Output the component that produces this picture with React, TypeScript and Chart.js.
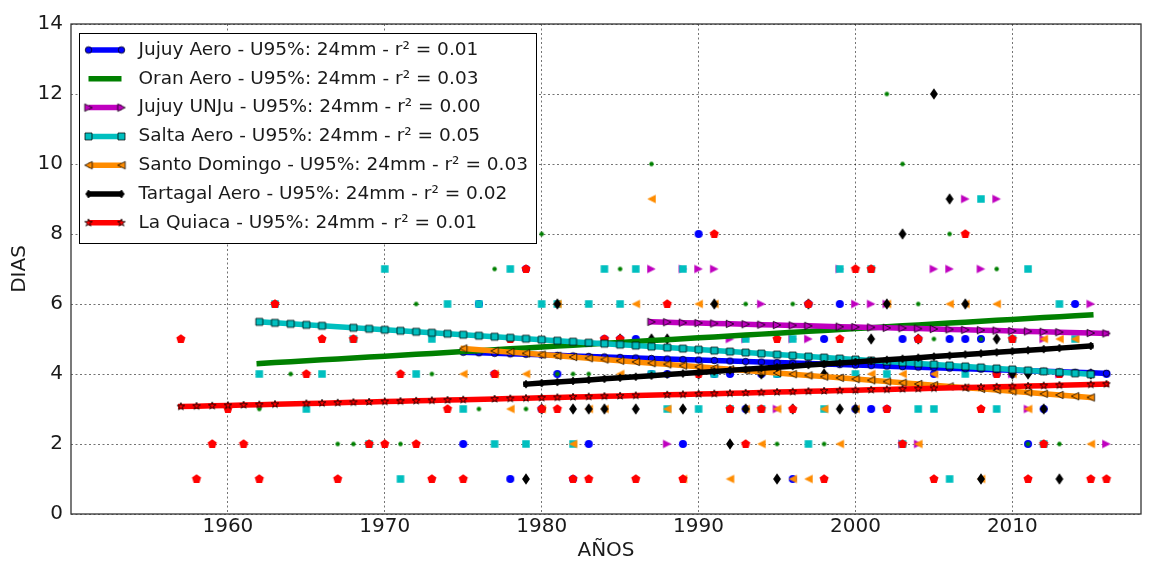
import { useEffect, useRef } from 'react';
import { Chart, registerables } from 'chart.js';

Chart.register(...registerables);

// ---------- data ----------
const stationNames = ['Jujuy Aero', 'Oran Aero', 'Jujuy UNJu', 'Salta Aero', 'Santo Domingo', 'Tartagal Aero', 'La Quiaca'];
const r2Values = ['0.01', '0.03', '0.00', '0.05', '0.03', '0.02', '0.01'];
const xTicks = [1960, 1970, 1980, 1990, 2000, 2010];
const yTicks = [0, 2, 4, 6, 8, 10, 12, 14];

const jujuyAeroYears = [1975, 1976, 1977, 1978, 1979, 1980, 1981, 1982, 1983, 1984, 1985, 1986, 1987, 1988, 1989, 1990, 1991, 1992, 1993, 1994, 1995, 1996, 1997, 1998, 1999, 2000, 2001, 2002, 2003, 2004, 2005, 2006, 2007, 2008, 2009, 2010, 2011, 2012, 2013, 2014, 2015, 2016];
const jujuyAeroDays = [2, 6, 4, 1, 7, 3, 4, 1, 2, 5, 5, 5, 4, 4, 2, 8, 4, 4, 3, 4, 4, 1, 6, 5, 6, 3, 3, 3, 5, 5, 4, 5, 5, 5, 4, 4, 2, 3, 4, 6, 4, 4];
const jujuyAeroTrend = [4.62, 4.02];

const oranAeroYears = [1962, 1963, 1964, 1965, 1966, 1967, 1968, 1969, 1970, 1971, 1972, 1973, 1974, 1975, 1976, 1977, 1978, 1979, 1980, 1981, 1982, 1983, 1984, 1985, 1986, 1987, 1988, 1989, 1990, 1991, 1992, 1993, 1994, 1995, 1996, 1997, 1998, 1999, 2000, 2001, 2002, 2003, 2004, 2005, 2006, 2007, 2008, 2009, 2010, 2011, 2012, 2013, 2014, 2015];
const oranAeroDays = [3, 6, 4, 4, 5, 2, 2, 2, 2, 2, 6, 4, 3, 1, 3, 7, 7, 3, 8, 4, 4, 4, 5, 7, 1, 10, 6, 7, 4, 6, 3, 6, 3, 2, 6, 6, 2, 7, 7, 7, 12, 10, 6, 5, 8, 8, 5, 7, 5, 2, 2, 2, 5, 1];
const oranAeroTrend = [4.3, 5.69];

const jujuyUnjuYears = [1987, 1988, 1989, 1990, 1991, 1992, 1993, 1994, 1995, 1996, 1997, 1999, 2000, 2001, 2002, 2003, 2004, 2005, 2006, 2007, 2008, 2009, 2010, 2011, 2012, 2013, 2015, 2016];
const jujuyUnjuDays = [7, 2, 7, 7, 7, 5, 5, 6, 3, 5, 5, 7, 6, 6, 6, 2, 2, 7, 7, 9, 7, 9, 4, 3, 5, 4, 6, 2];
const jujuyUnjuTrend = [5.49, 5.16];

const saltaAeroYears = [1962, 1963, 1964, 1965, 1966, 1968, 1969, 1970, 1971, 1972, 1973, 1974, 1975, 1976, 1977, 1978, 1979, 1980, 1981, 1982, 1983, 1984, 1985, 1986, 1987, 1988, 1989, 1990, 1991, 1992, 1993, 1994, 1995, 1996, 1997, 1998, 1999, 2000, 2001, 2002, 2003, 2004, 2005, 2006, 2007, 2008, 2009, 2010, 2011, 2012, 2013, 2014, 2015];
const saltaAeroDays = [4, 6, 8, 3, 4, 5, 2, 7, 1, 4, 5, 6, 3, 6, 2, 7, 2, 6, 6, 2, 6, 7, 6, 7, 4, 3, 7, 3, 4, 3, 5, 3, 4, 5, 2, 3, 7, 4, 7, 4, 2, 3, 3, 1, 4, 9, 3, 5, 7, 2, 6, 5, 4];
const saltaAeroTrend = [5.49, 3.99];

const santoDomingoYears = [1975, 1977, 1978, 1979, 1980, 1981, 1982, 1983, 1984, 1985, 1986, 1987, 1988, 1989, 1990, 1991, 1992, 1993, 1994, 1995, 1996, 1997, 1998, 1999, 2000, 2001, 2002, 2003, 2004, 2005, 2006, 2007, 2008, 2009, 2010, 2011, 2012, 2013, 2014, 2015];
const santoDomingoDays = [4, 4, 3, 4, 3, 6, 2, 3, 3, 4, 6, 9, 3, 1, 6, 6, 1, 3, 2, 3, 1, 1, 3, 2, 3, 4, 6, 4, 2, 4, 6, 6, 1, 6, 4, 3, 5, 5, 5, 2];
const santoDomingoTrend = [4.73, 3.33];

const tartagalAeroYears = [1979, 1980, 1981, 1982, 1983, 1984, 1985, 1986, 1987, 1988, 1989, 1990, 1991, 1992, 1993, 1994, 1995, 1996, 1997, 1998, 1999, 2000, 2001, 2002, 2003, 2004, 2005, 2006, 2007, 2008, 2009, 2010, 2011, 2012, 2013, 2015];
const tartagalAeroDays = [1, 3, 6, 3, 3, 3, 5, 3, 5, 5, 3, 4, 6, 2, 3, 4, 1, 3, 6, 4, 3, 3, 5, 6, 8, 5, 12, 9, 6, 1, 5, 4, 4, 3, 1, 4];
const tartagalAeroTrend = [3.71, 4.8];

const laQuiacaYears = [1957, 1958, 1959, 1960, 1961, 1962, 1963, 1965, 1966, 1967, 1968, 1969, 1970, 1971, 1972, 1973, 1974, 1975, 1977, 1978, 1979, 1980, 1981, 1982, 1983, 1984, 1985, 1986, 1988, 1989, 1990, 1991, 1992, 1993, 1994, 1995, 1996, 1997, 1998, 1999, 2000, 2001, 2002, 2003, 2004, 2005, 2007, 2008, 2009, 2010, 2011, 2012, 2013, 2015, 2016];
const laQuiacaDays = [5, 1, 2, 3, 2, 1, 6, 4, 5, 1, 5, 2, 2, 4, 2, 1, 3, 1, 4, 5, 7, 3, 3, 1, 1, 5, 5, 1, 6, 1, 4, 8, 3, 2, 3, 5, 3, 6, 1, 5, 7, 7, 3, 2, 5, 1, 8, 3, 4, 5, 1, 2, 4, 1, 1];
const laQuiacaTrend = [3.07, 3.71];

const stationYears = [jujuyAeroYears, oranAeroYears, jujuyUnjuYears, saltaAeroYears, santoDomingoYears, tartagalAeroYears, laQuiacaYears];
const stationDays = [jujuyAeroDays, oranAeroDays, jujuyUnjuDays, saltaAeroDays, santoDomingoDays, tartagalAeroDays, laQuiacaDays];
const stationTrends = [jujuyAeroTrend, oranAeroTrend, jujuyUnjuTrend, saltaAeroTrend, santoDomingoTrend, tartagalAeroTrend, laQuiacaTrend];

// ---------- styles ----------
const colors = ['#0000ff', '#008000', '#bf00bf', '#00bfbf', '#ff8c00', '#000000', '#ff0000'];
const scatterShapes = ['circle', 'circle', 'triRight', 'square', 'triLeft', 'thinDiamond', 'pentagon'];
const scatterSizes = [8, 4.5, 8.5, 7.5, 8.5, 11.5, 9.6];
const trendShapes = ['circle', 'none', 'triRight', 'square', 'triLeft', 'thinDiamond', 'star'];
const trendSizes = [6.5, 0, 7.5, 7, 7.5, 8, 8];
const FONT = '"DejaVu Sans", "Liberation Sans", sans-serif';

function makeMarker(shape: string, size: number, fill: string, stroke: string | null, lw: number): HTMLCanvasElement {
  const pad = 2;
  const dim = Math.ceil(size + pad * 2);
  const c = document.createElement('canvas');
  c.width = dim;
  c.height = dim;
  const g = c.getContext('2d')!;
  g.translate(dim / 2, dim / 2);
  const r = size / 2;
  g.beginPath();
  if (shape === 'circle') {
    g.arc(0, 0, r, 0, Math.PI * 2);
  } else if (shape === 'square') {
    g.rect(-r, -r, 2 * r, 2 * r);
  } else if (shape === 'triRight') {
    g.moveTo(r, 0); g.lineTo(-r, -r); g.lineTo(-r, r); g.closePath();
  } else if (shape === 'triLeft') {
    g.moveTo(-r, 0); g.lineTo(r, -r); g.lineTo(r, r); g.closePath();
  } else if (shape === 'thinDiamond') {
    g.moveTo(0, -r); g.lineTo(r * 0.68, 0); g.lineTo(0, r); g.lineTo(-r * 0.68, 0); g.closePath();
  } else if (shape === 'pentagon') {
    for (let k = 0; k < 5; k++) {
      const a = -Math.PI / 2 + (k * 2 * Math.PI) / 5;
      const px = r * Math.cos(a), py = r * Math.sin(a);
      if (k === 0) g.moveTo(px, py); else g.lineTo(px, py);
    }
    g.closePath();
  } else if (shape === 'star') {
    for (let k = 0; k < 10; k++) {
      const a = -Math.PI / 2 + (k * Math.PI) / 5;
      const rr = k % 2 === 0 ? r : r * 0.382;
      const px = rr * Math.cos(a), py = rr * Math.sin(a);
      if (k === 0) g.moveTo(px, py); else g.lineTo(px, py);
    }
    g.closePath();
  }
  g.fillStyle = fill;
  g.fill();
  if (stroke) {
    g.lineWidth = lw;
    g.strokeStyle = stroke;
    g.lineJoin = 'miter';
    g.stroke();
  }
  return c;
}

function trendPoints(years: number[], ends: number[]) {
  const y0 = years[0];
  const y1 = years[years.length - 1];
  return years.map((x) => ({ x, y: ends[0] + ((ends[1] - ends[0]) * (x - y0)) / (y1 - y0) }));
}

export default function App() {
  const canvasRef = useRef<HTMLCanvasElement | null>(null);

  useEffect(() => {
    if (!canvasRef.current) return;

    const scatterMarkers = scatterShapes.map((s, i) => makeMarker(s, scatterSizes[i], colors[i], null, 0));
    const trendMarkers = trendShapes.map((s, i) =>
      s === 'none' ? null : makeMarker(s, trendSizes[i], colors[i], 'rgba(0,0,0,0.85)', 0.9)
    );
    const labels = stationNames.map((n, i) => `${n} - U95%: 24mm - r² = ${r2Values[i]}`);

    const datasets: any[] = [];
    stationNames.forEach((name, i) => {
      datasets.push({
        label: name + ' data',
        data: stationYears[i].map((x, k) => ({ x, y: stationDays[i][k] })),
        showLine: false,
        pointStyle: scatterMarkers[i],
        pointRadius: 4,
        pointHoverRadius: 4,
        borderColor: colors[i],
        backgroundColor: colors[i],
      });
    });
    stationNames.forEach((name, i) => {
      datasets.push({
        label: labels[i],
        data: trendPoints(stationYears[i], stationTrends[i]),
        showLine: true,
        borderColor: colors[i],
        backgroundColor: colors[i],
        borderWidth: 5.5,
        borderCapStyle: 'square',
        pointStyle: trendMarkers[i] || 'circle',
        pointRadius: trendMarkers[i] ? 4 : 0,
        pointHoverRadius: trendMarkers[i] ? 4 : 0,
      });
    });
    datasets.forEach((d, idx) => { d.order = 100 - idx; });

    const framePlugin = {
      id: 'frameAndLegend',
      afterDatasetsDraw(chart: any) {
        const { ctx, chartArea: a } = chart;
        ctx.save();
        ctx.strokeStyle = '#333';
        ctx.lineWidth = 1.3;
        ctx.strokeRect(a.left, a.top, a.right - a.left, a.bottom - a.top);
        ctx.restore();
      },
      afterDraw(chart: any) {
        const { ctx, chartArea: a } = chart;
        ctx.save();
        const bx = a.left + 8.5;
        const by = a.top + 9.5;
        const bw = 457;
        const bh = 210;
        ctx.fillStyle = '#ffffff';
        ctx.fillRect(bx, by, bw, bh);
        ctx.strokeStyle = '#000';
        ctx.lineWidth = 1;
        ctx.strokeRect(bx, by, bw, bh);
        ctx.font = `18.5px ${FONT}`;
        ctx.textBaseline = 'middle';
        ctx.textAlign = 'left';
        labels.forEach((lab, i) => {
          const y = by + 16.5 + i * 28.8;
          const x0 = bx + 9;
          const x1 = bx + 42;
          ctx.strokeStyle = colors[i];
          ctx.lineWidth = 5.5;
          ctx.lineCap = 'butt';
          ctx.beginPath();
          ctx.moveTo(x0, y);
          ctx.lineTo(x1, y);
          ctx.stroke();
          const m = trendMarkers[i];
          if (m) {
            ctx.drawImage(m, x0 - m.width / 2, y - m.height / 2);
            ctx.drawImage(m, x1 - m.width / 2, y - m.height / 2);
          }
          ctx.fillStyle = '#1a1a1a';
          ctx.fillText(lab, bx + 59, y);
        });
        ctx.restore();
      },
    };

    const tickFont = { family: FONT, size: 20 };
    const chart = new Chart(canvasRef.current, {
      type: 'scatter',
      data: { datasets },
      options: {
        animation: false,
        responsive: false,
        devicePixelRatio: 1,
        events: [],
        layout: { padding: { top: 24, right: 15, left: 0, bottom: 0 } },
        plugins: {
          legend: { display: false },
          tooltip: { enabled: false },
        },
        scales: {
          x: {
            type: 'linear',
            min: 1950,
            max: 2018.2,
            afterBuildTicks: (axis: any) => { axis.ticks = xTicks.map((v) => ({ value: v })); },
            afterFit: (axis: any) => { axis.height = 47; },
            grid: { color: 'rgba(0,0,0,0.55)', lineWidth: 1, drawTicks: false },
            border: { display: false, dash: [2, 2.5] },
            ticks: {
              color: '#1a1a1a',
              font: tickFont,
              padding: 1,
              maxRotation: 0,
              autoSkip: false,
              callback: (v: any) => String(v),
            },
            title: {
              display: true,
              text: 'AÑOS',
              color: '#1a1a1a',
              font: { family: FONT, size: 20, lineHeight: 1 },
              padding: { top: 0, bottom: 0 },
            },
          },
          y: {
            type: 'linear',
            min: 0,
            max: 14,
            afterBuildTicks: (axis: any) => { axis.ticks = yTicks.map((v) => ({ value: v })); },
            afterFit: (axis: any) => { axis.width = 71; },
            grid: { color: 'rgba(0,0,0,0.55)', lineWidth: 1, drawTicks: false },
            border: { display: false, dash: [2, 2.5] },
            ticks: {
              color: '#1a1a1a',
              font: tickFont,
              padding: 8,
              callback: (v: any) => String(v),
            },
            title: {
              display: true,
              text: 'DIAS',
              color: '#1a1a1a',
              font: { family: FONT, size: 20, lineHeight: 1 },
              padding: { top: 10, bottom: 0 },
            },
          },
        },
      },
      plugins: [framePlugin],
    } as any);

    return () => chart.destroy();
  }, []);

  return (
    <div style={{ position: 'absolute', left: 0, top: 0, width: 1156, height: 561, background: '#fff' }}>
      <canvas ref={canvasRef} width={1156} height={561} style={{ display: 'block' }} />
    </div>
  );
}
